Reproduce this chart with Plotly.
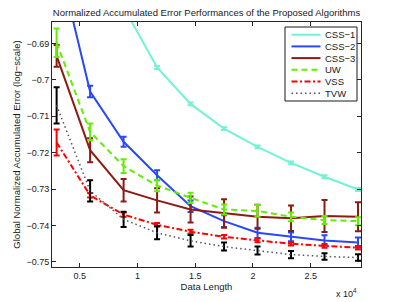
import plotly.graph_objects as go

# ---- data ----
data_length = [3000, 5900, 8800, 11700, 14600, 17500, 20400, 23300, 26200, 29100]

css1 = [-0.650, -0.664, -0.680, -0.6966, -0.7066, -0.7134, -0.7184, -0.7228, -0.7266, -0.7301]
css1_err = [0.0004, 0.0004, 0.0004, 0.0004, 0.0004, 0.0004, 0.0004, 0.0004, 0.0004, 0.0004]

css2 = [-0.665, -0.7032, -0.7170, -0.7262, -0.7347, -0.7388, -0.7420, -0.7431, -0.7441, -0.7447]
css2_err = [0.0015, 0.0016, 0.0014, 0.0014, 0.0016, 0.0016, 0.0014, 0.0012, 0.0014, 0.0014]

css3 = [-0.6934, -0.7193, -0.7303, -0.7331, -0.7356, -0.7367, -0.7376, -0.7380, -0.7374, -0.7376]
css3_err = [0.0030, 0.0033, 0.0031, 0.0033, 0.0036, 0.0039, 0.0033, 0.0035, 0.0044, 0.0040]

uw = [-0.6898, -0.7143, -0.7237, -0.7290, -0.7324, -0.7356, -0.7360, -0.7376, -0.7385, -0.7388]
uw_err = [0.0039, 0.0023, 0.0019, 0.0016, 0.0014, 0.0014, 0.0016, 0.0012, 0.0011, 0.0011]

vss = [-0.7172, -0.7317, -0.7370, -0.7398, -0.7417, -0.7431, -0.7441, -0.7450, -0.7456, -0.7461]
vss_err = [0.0036, 0.0006, 0.0006, 0.0005, 0.0005, 0.0005, 0.0005, 0.0005, 0.0005, 0.0005]

tvw = [-0.7070, -0.7305, -0.7383, -0.7420, -0.7442, -0.7458, -0.7469, -0.7480, -0.7485, -0.7488]
tvw_err = [0.0050, 0.0029, 0.0021, 0.0018, 0.0016, 0.0011, 0.0011, 0.0010, 0.0009, 0.0009]

series_names = ["CSS\u22121", "CSS\u22122", "CSS\u22123", "UW", "VSS", "TVW"]

x_tick_vals = [5000, 10000, 15000, 20000, 25000]
x_tick_text = ["0.5", "1", "1.5", "2", "2.5"]
y_tick_vals = [-0.69, -0.70, -0.71, -0.72, -0.73, -0.74, -0.75]
y_tick_text = ["\u22120.69", "\u22120.7", "\u22120.71", "\u22120.72", "\u22120.73", "\u22120.74", "\u22120.75"]

# ---- styles ----
styles = [
    dict(color="#72F2D6", dash="solid", width=2, ecolor="#72F2D6"),
    dict(color="#2A48F5", dash="solid", width=2, ecolor="#2A48F5"),
    dict(color="#8C1C13", dash="solid", width=2, ecolor="#8C1C13"),
    dict(color="#62EE00", dash="6px,4px", width=2, ecolor="#62EE00"),
    dict(color="#FF0000", dash="6px,2.5px,2px,2.5px", width=2, ecolor="#FF0000"),
    dict(color="#555555", dash="1.5px,3px", width=1.5, ecolor="#000000"),
]
ys = [css1, css2, css3, uw, vss, tvw]
errs = [css1_err, css2_err, css3_err, uw_err, vss_err, tvw_err]

FONT = "Liberation Sans, Arial, Helvetica, sans-serif"
TXT = "#1a1a1a"

fig = go.Figure()
for name, y, e, s in zip(series_names, ys, errs, styles):
    fig.add_trace(go.Scatter(
        x=data_length, y=y, name=name, mode="lines",
        line=dict(color=s["color"], dash=s["dash"], width=s["width"]),
        error_y=dict(type="data", array=e, visible=True, color=s["ecolor"],
                     thickness=2, width=3),
        showlegend=False,
    ))

W, H = 399, 302
ML, MR, MT, MB = 52, 38, 22, 35
PW, PH = W - ML - MR, H - MT - MB

def px_x(p):
    return (p - ML) / PW

def px_y(p):
    return (H - MB - p) / PH

# manual compact legend (MATLAB style)
shapes = [dict(type="rect", xref="paper", yref="paper",
               x0=px_x(285), x1=px_x(357), y0=px_y(101), y1=px_y(27),
               line=dict(color="#1a1a1a", width=1), fillcolor="white", layer="above")]
annotations = []
for k, (name, s) in enumerate(zip(series_names, styles)):
    yy = 34.7 + 11.7 * k
    shapes.append(dict(type="line", xref="paper", yref="paper",
                       x0=px_x(291.5), x1=px_x(320.5), y0=px_y(yy), y1=px_y(yy),
                       line=dict(color=s["color"], dash=s["dash"], width=s["width"]),
                       layer="above"))
    annotations.append(dict(xref="paper", yref="paper", x=px_x(323), y=px_y(yy),
                            text=name, showarrow=False, xanchor="left", yanchor="middle",
                            font=dict(family=FONT, size=9.5, color=TXT)))

annotations.append(dict(xref="paper", yref="paper", x=px_x(359), y=px_y(293),
                        text="x 10<sup>4</sup>", showarrow=False, xanchor="right",
                        yanchor="middle", font=dict(family=FONT, size=9, color=TXT)))

axis_common = dict(showline=True, linecolor="#262626", linewidth=1, mirror="ticks",
                   ticks="inside", ticklen=4, tickcolor="#262626", showgrid=False,
                   zeroline=False, tickfont=dict(family=FONT, size=9, color=TXT))

fig.update_layout(
    width=W, height=H,
    margin=dict(l=ML, r=MR, t=MT, b=MB, autoexpand=False),
    paper_bgcolor="white", plot_bgcolor="white",
    title=dict(text="Normalized Accumulated Error Performances of the Proposed Algorithms",
               x=0.5, xref="paper", y=1 - 12.5 / H, yanchor="middle",
               font=dict(family=FONT, size=9.5, color=TXT)),
    xaxis=dict(range=[2600, 29360], tickvals=x_tick_vals, ticktext=x_tick_text,
               title=dict(text="Data Length", font=dict(family=FONT, size=9.5, color=TXT),
                          standoff=2),
               **axis_common),
    yaxis=dict(range=[-0.7514, -0.6841], tickvals=y_tick_vals, ticktext=y_tick_text,
               title=dict(text="Global Normalized Accumulated Error (log\u2212scale)",
                          font=dict(family=FONT, size=9.5, color=TXT), standoff=4),
               **axis_common),
    shapes=shapes,
    annotations=annotations,
)

fig.write_html("out.html",
               config={"displayModeBar": False},
               post_script="document.body.style.margin='0';document.body.style.overflow='hidden';")
